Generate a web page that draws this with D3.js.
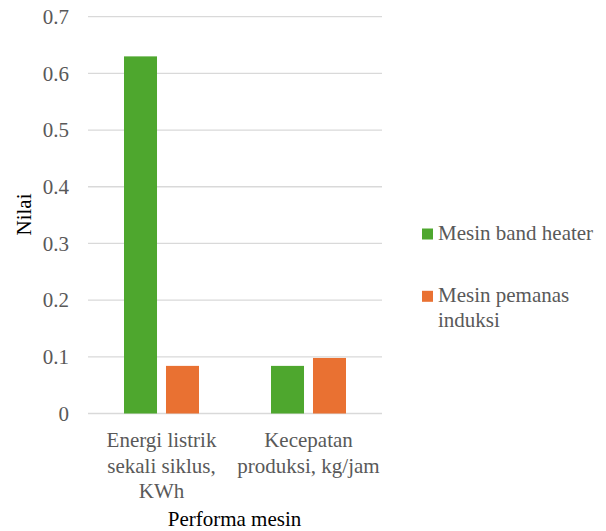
<!DOCTYPE html>
<html>
<head>
<meta charset="utf-8">
<script src="https://cdn.jsdelivr.net/npm/d3@7"></script>
<style>
  html, body { margin: 0; padding: 0; background: #fff; }
  svg { display: block; }
  svg text { font-family: "Times New Roman", "Liberation Serif", "DejaVu Serif", serif; }
</style>
</head>
<body>
<svg id="chart" width="606" height="531"></svg>
<script>
const categories = [["Energi listrik", "sekali siklus,", "KWh"], ["Kecepatan", "produksi, kg/jam"]];
const categoryKeys = ["energi", "kecepatan"];
const seriesNames = [["Mesin band heater"], ["Mesin pemanas", "induksi"]];
const seriesKeys = ["band", "induksi"];
const bandHeater = [0.63, 0.084];
const pemanasInduksi = [0.084, 0.098];
const yTicks = [0, 0.1, 0.2, 0.3, 0.4, 0.5, 0.6, 0.7];
const yTickLabels = ["0", "0.1", "0.2", "0.3", "0.4", "0.5", "0.6", "0.7"];
const colors = ["#4ea72e", "#e97132"];
const xTitle = "Performa mesin";
const yTitle = "Nilai";

(function () {
const FONT = '"Times New Roman", "Liberation Serif", "DejaVu Serif", serif';
const seriesValues = [bandHeater, pemanasInduksi];
const svg = d3.select("#chart");
const mLeft = 88, mRight = 382, mTop = 16.7, mBottom = 413.5;

const x0 = d3.scaleBand().domain(categoryKeys).range([mLeft, mRight]);
const groupW = 75;
const x1 = d3.scaleBand().domain(seriesKeys).range([0, groupW]).paddingInner(0.214);
const y = d3.scaleLinear().domain([0, 0.7]).range([mBottom, mTop]);

// gridlines
svg.append("g").selectAll("line").data(yTicks).join("line")
  .attr("x1", mLeft).attr("x2", mRight)
  .attr("y1", d => y(d)).attr("y2", d => y(d))
  .attr("stroke", "#d9d9d9").attr("stroke-width", 1.3);

// y tick labels
svg.append("g").selectAll("text").data(yTicks).join("text")
  .attr("x", 69).attr("y", d => y(d)).attr("dy", "0.35em")
  .attr("text-anchor", "end").attr("font-size", 21).attr("font-family", FONT).attr("fill", "#595959")
  .text((d, i) => yTickLabels[i]);

// bars
categoryKeys.forEach((c, ci) => {
  const off = x0(c) + (x0.bandwidth() - groupW) / 2;
  seriesKeys.forEach((s, si) => {
    const v = seriesValues[si][ci];
    svg.append("rect")
      .attr("x", off + x1(s)).attr("width", x1.bandwidth())
      .attr("y", y(v)).attr("height", y(0) - y(v))
      .attr("fill", colors[si]);
  });
});

// category labels
const lineH = 25.5;
categoryKeys.forEach((c, ci) => {
  const t = svg.append("text")
    .attr("text-anchor", "middle").attr("font-size", 21).attr("font-family", FONT).attr("fill", "#595959");
  categories[ci].forEach((ln, li) => {
    t.append("tspan").attr("x", x0(c) + x0.bandwidth() / 2).attr("y", 447 + li * lineH).text(ln);
  });
});

// axis titles
svg.append("text").attr("x", (mLeft + mRight) / 2 - 0.5).attr("y", 526)
  .attr("text-anchor", "middle").attr("font-size", 21).attr("font-family", FONT).attr("fill", "#000").text(xTitle);
svg.append("text").attr("transform", "translate(31,214.5) rotate(-90)")
  .attr("text-anchor", "middle").attr("font-size", 21).attr("font-family", FONT).attr("fill", "#000").text(yTitle);

// legend
const legY = [228.5, 290.8];
seriesKeys.forEach((s, si) => {
  svg.append("rect").attr("x", 422).attr("y", legY[si]).attr("width", 11).attr("height", 11)
    .attr("fill", colors[si]);
  const t = svg.append("text").attr("font-size", 21).attr("font-family", FONT).attr("fill", "#595959");
  seriesNames[si].forEach((ln, li) => {
    t.append("tspan").attr("x", 438).attr("y", legY[si] + 11.5 + li * 25).text(ln);
  });
});
})();
</script>
</body>
</html>
